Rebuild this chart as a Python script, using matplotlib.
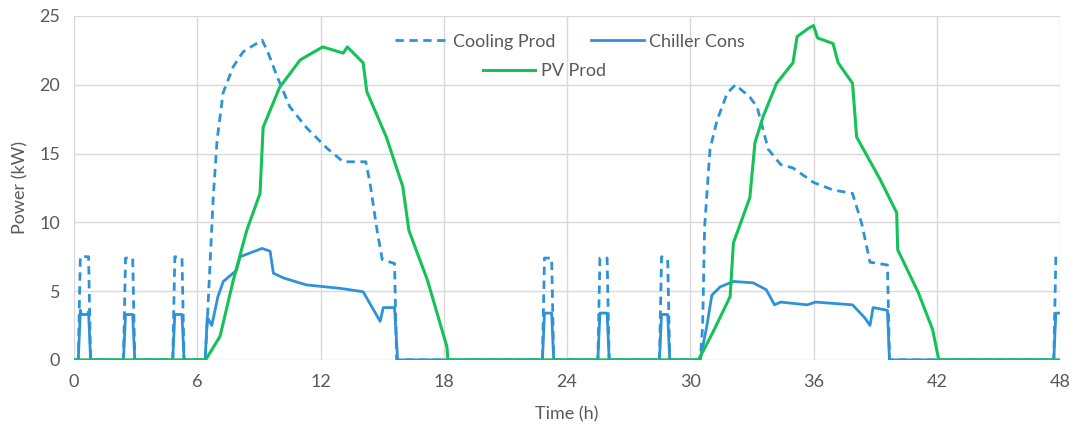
import matplotlib
matplotlib.use('Agg')
import matplotlib.pyplot as plt
from matplotlib.lines import Line2D

# time (h) / power (kW)
cool_t = [0, 0.2, 0.3, 0.7, 0.8, 2.4, 2.5, 2.85, 2.95, 4.8, 4.9, 5.25, 5.35,
          6.38, 6.5, 6.77, 6.96, 7.25, 7.74, 8.23, 9.15, 9.45, 9.88, 10.5, 11.3,
          12.3, 13.1, 14.2, 14.4, 14.75, 15.0, 15.6, 15.7,
          22.8, 22.9, 23.25, 23.35, 25.5, 25.6, 25.95, 26.05, 28.5, 28.6, 28.9, 29.0,
          30.48, 30.6, 30.7, 30.96, 31.3, 31.8, 32.2, 32.9, 33.25, 33.8, 34.4, 35.0,
          36.0, 36.95, 37.9, 38.35, 38.75, 39.6, 39.7, 47.7, 47.8, 48]
cool_p = [0, 0, 7.5, 7.5, 0, 0, 7.4, 7.4, 0, 0, 7.5, 7.4, 0,
          0, 3.4, 11.8, 16.0, 19.4, 21.3, 22.4, 23.25, 22.3, 20.6, 18.4, 16.9,
          15.4, 14.4, 14.4, 12.9, 9.4, 7.3, 7.0, 0,
          0, 7.4, 7.4, 0, 0, 7.4, 7.4, 0, 0, 7.5, 7.3, 0,
          0, 2.4, 9.7, 15.3, 17.4, 19.4, 20.0, 19.1, 18.4, 15.3, 14.2, 13.95,
          12.9, 12.35, 12.1, 9.9, 7.1, 6.9, 0, 0, 7.5, 7.5]

chill_t = [0, 0.2, 0.3, 0.35, 0.65, 0.7, 0.8, 2.4, 2.5, 2.85, 2.95, 4.8, 4.9, 5.25, 5.35,
           6.38, 6.48, 6.7, 7.0, 7.26, 7.9, 8.08, 9.15, 9.54, 9.7, 10.2, 11.3, 12.95,
           14.07, 14.9, 15.05, 15.6, 15.75,
           22.8, 22.9, 23.25, 23.35, 25.5, 25.6, 25.95, 26.05, 28.5, 28.6, 28.9, 29.0,
           30.48, 30.8, 31.05, 31.45, 32.1, 33.06, 33.7, 34.1, 34.4, 35.7, 36.1, 37.9,
           38.5, 38.75, 38.9, 39.6, 39.7, 47.7, 47.8, 48]
chill_p = [0, 0, 3.6, 3.3, 3.3, 3.5, 0, 0, 3.3, 3.3, 0, 0, 3.3, 3.3, 0,
           0, 3.1, 2.5, 4.6, 5.7, 6.5, 7.5, 8.1, 7.9, 6.3, 5.95, 5.45, 5.2,
           4.95, 2.8, 3.8, 3.8, 0,
           0, 3.4, 3.4, 0, 0, 3.4, 3.4, 0, 0, 3.3, 3.3, 0,
           0, 2.4, 4.7, 5.3, 5.7, 5.6, 5.1, 4.0, 4.2, 4.0, 4.2, 4.0,
           3.05, 2.5, 3.8, 3.6, 0, 0, 3.4, 3.4]

pv_t = [0, 6.4, 7.1, 7.75, 8.4, 9.05, 9.2, 10.0, 11.0, 12.1, 13.1, 13.3, 14.07,
        14.25, 15.2, 16.0, 16.3, 17.2, 18.15, 18.2,
        30.4, 31.1, 31.94, 32.1, 32.9, 33.15, 33.55, 34.2, 35.0, 35.2, 35.75, 36.0,
        36.2, 36.95, 37.2, 37.9, 38.1, 39.25, 40.05, 40.1, 41.1, 41.8, 42.1, 48]
pv_p = [0, 0, 1.7, 5.8, 9.4, 12.1, 16.9, 19.8, 21.8, 22.75, 22.3, 22.75, 21.6,
        19.5, 16.2, 12.6, 9.4, 5.8, 0.95, 0,
        0, 2.0, 4.6, 8.5, 11.8, 15.8, 17.7, 20.1, 21.6, 23.5, 24.1, 24.3,
        23.4, 23.0, 21.6, 20.1, 16.2, 13.1, 10.7, 8.0, 4.9, 2.2, 0, 0]

x_ticks = [0, 6, 12, 18, 24, 30, 36, 42, 48]
y_ticks = [0, 5, 10, 15, 20, 25]

BLUE = '#2D93D6'
GREEN = '#14C258'
GRAY = '#595959'

plt.rcParams['font.family'] = ['Lato', 'DejaVu Sans']

fig = plt.figure(figsize=(10.75, 4.32), dpi=100)
ax = fig.add_axes([0.069, 0.167, 0.917, 0.796])

ax.plot(cool_t, cool_p, color=BLUE, lw=2.0, dashes=(3, 2))
ax.plot(chill_t, chill_p, color=BLUE, lw=2.0)
ax.plot(pv_t, pv_p, color=GREEN, lw=2.2)

ax.set_xlim(0, 48)
ax.set_ylim(0, 25)
ax.set_xticks(x_ticks)
ax.set_yticks(y_ticks)
ax.grid(True, color='#D9D9D9', lw=1.0)
ax.set_axisbelow(True)
for s in ax.spines.values():
    s.set_visible(False)
ax.tick_params(length=0, labelsize=13, colors=GRAY, pad=10)
ax.set_xlabel('Time (h)', fontsize=13, color=GRAY, labelpad=12)
ax.set_ylabel('Power (kW)', fontsize=13, color=GRAY, labelpad=8)

h_cool = Line2D([], [], color=BLUE, lw=2.0, dashes=(3, 2))
h_chill = Line2D([], [], color=BLUE, lw=2.0)
h_pv = Line2D([], [], color=GREEN, lw=2.2)
leg1 = ax.legend([h_cool, h_chill], ['Cooling Prod', 'Chiller Cons'], ncol=2,
                 loc='center', bbox_to_anchor=(0.503, 0.925), frameon=False,
                 fontsize=13, handlelength=2.9, handletextpad=0.3, columnspacing=2.0,
                 labelcolor=GRAY)
ax.add_artist(leg1)
ax.legend([h_pv], ['PV Prod'], loc='center', bbox_to_anchor=(0.477, 0.84),
          frameon=False, fontsize=13, handlelength=2.9, handletextpad=0.3,
          labelcolor=GRAY)

fig.savefig('out.png', dpi=100)
